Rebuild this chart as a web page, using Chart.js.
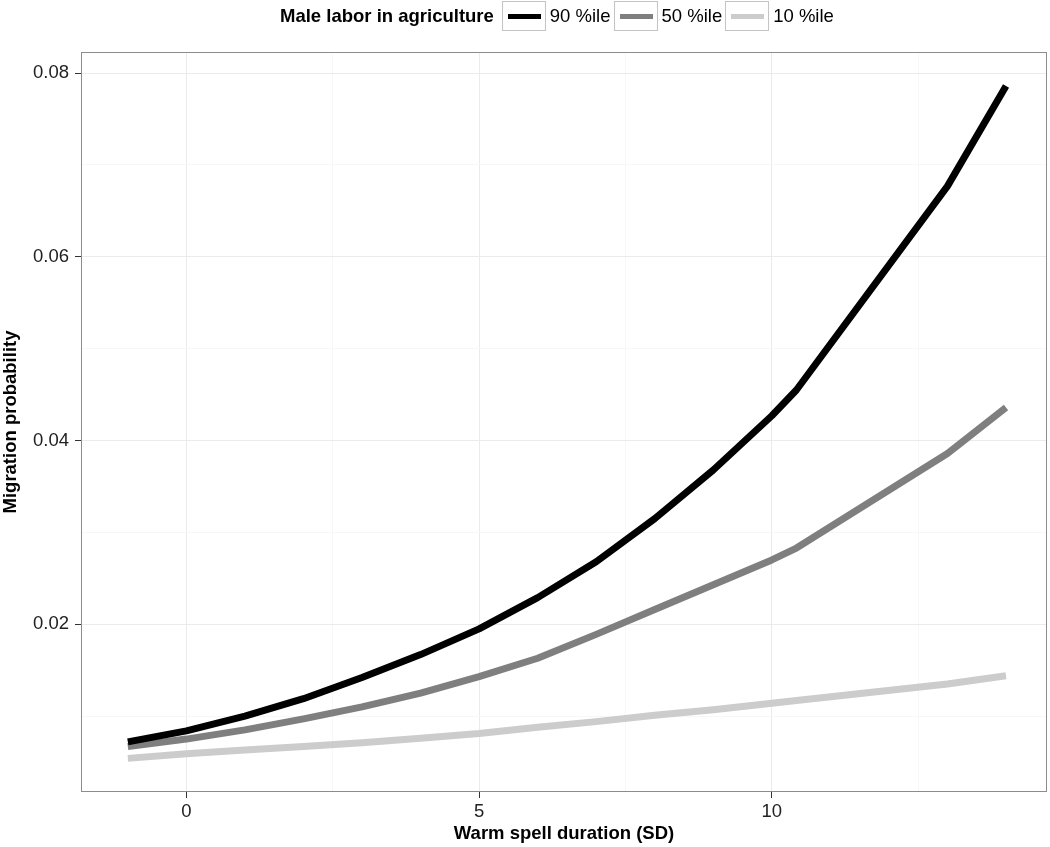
<!DOCTYPE html>
<html>
<head>
<meta charset="utf-8">
<script src="https://cdn.jsdelivr.net/npm/chart.js@4.4.1/dist/chart.umd.min.js"></script>
<style>
  html, body { margin: 0; padding: 0; background: #fff; }
  #wrap { position: relative; width: 1050px; height: 847px; font-family: "Liberation Sans", Arial, sans-serif; }
  #legend { position: absolute; top: 1px; left: 280px; height: 30px; display: flex; align-items: center; color: #000; font-size: 18.5px; }
  #legend .ltitle { font-weight: bold; margin-right: 8px; }
  #legend .key { position: relative; width: 42px; height: 28px; border: 1px solid #c4c4c4; background: #fff; }
  #legend .kline { position: absolute; left: 5px; right: 4px; top: 12px; height: 5px; }
  #legend .klabel { margin: 0 3px 0 4px; }
</style>
</head>
<body>
<div id="wrap">
  <canvas id="grafica" width="1050" height="847"></canvas>
  <div id="legend"></div>
</div>
<script>
// valores
const duracion = [-1, 0, 1, 2, 3, 4, 5, 6, 7, 8, 9, 10, 10.42, 13, 14];
const p90 = [0.0072, 0.0084, 0.0100, 0.0119, 0.0142, 0.0167, 0.0195, 0.0229, 0.0268, 0.0315, 0.0368, 0.0427, 0.0455, 0.0677, 0.0786];
const p50 = [0.0067, 0.0075, 0.0085, 0.0097, 0.0110, 0.0125, 0.0143, 0.0163, 0.0189, 0.0216, 0.0243, 0.0270, 0.0283, 0.0386, 0.0436];
const p10 = [0.0054, 0.0059, 0.0063, 0.0067, 0.0071, 0.0076, 0.0081, 0.0088, 0.0094, 0.0101, 0.0107, 0.0114, 0.0117, 0.0135, 0.0144];

const etiquetas = ['90 %ile', '50 %ile', '10 %ile'];
const colores = ['#000000', '#7f7f7f', '#cccccc'];
const tituloLeyenda = 'Male labor in agriculture';

const marcasX = [0, 2.5, 5, 7.5, 10, 12.5];
const marcasY = [0.01, 0.02, 0.03, 0.04, 0.05, 0.06, 0.07, 0.08];

const fuente = { family: '"Liberation Sans", Arial, sans-serif', size: 18.5 };

const bordePanel = {
    id: 'bordePanel',
    afterDraw(chart) {
        const { ctx, chartArea: a } = chart;
        ctx.save();
        ctx.strokeStyle = '#8c8c8c';
        ctx.lineWidth = 1;
        ctx.strokeRect(Math.round(a.left) + 0.5, Math.round(a.top) + 0.5, Math.round(a.width) - 1, Math.round(a.height) - 1);
        ctx.restore();
    }
};

const series = [p90, p50, p10];
const esMayorX = v => v % 5 === 0;
const esMayorY = v => Math.round(v * 100) % 2 === 0;

new Chart(document.getElementById('grafica'), {
    type: 'line',
    data: {
        datasets: series.map((s, i) => ({
            label: etiquetas[i],
            data: s.map((y, j) => ({ x: duracion[j], y: y })),
            borderColor: colores[i],
            borderWidth: 7,
            borderCapStyle: 'butt',
            borderJoinStyle: 'round',
            pointRadius: 0,
            tension: 0,
            fill: false
        }))
    },
    options: {
        responsive: false,
        animation: false,
        layout: { padding: { top: 52, right: 3, left: 0, bottom: 0 } },
        plugins: { legend: { display: false }, tooltip: { enabled: false } },
        scales: {
            x: {
                type: 'linear',
                min: -1.8,
                max: 14.7,
                afterBuildTicks: scale => { scale.ticks = marcasX.map(v => ({ value: v })); },
                afterFit: scale => { scale.height = 55; },
                border: { display: false },
                grid: {
                    color: c => esMayorX(c.tick.value) ? '#ebebeb' : '#f7f7f7',
                    tickColor: c => esMayorX(c.tick.value) ? '#333333' : 'rgba(0,0,0,0)',
                    tickLength: 6,
                    lineWidth: 1
                },
                ticks: {
                    autoSkip: false,
                    maxRotation: 0,
                    padding: 3,
                    color: '#222',
                    font: fuente,
                    callback: v => esMayorX(v) ? String(v) : ''
                },
                title: {
                    display: true,
                    text: 'Warm spell duration (SD)',
                    color: '#000',
                    font: { ...fuente, weight: 'bold' },
                    padding: { top: 0, bottom: 2 }
                }
            },
            y: {
                min: 0.00174,
                max: 0.0823,
                afterBuildTicks: scale => { scale.ticks = marcasY.map(v => ({ value: v })); },
                afterFit: scale => { scale.width = 81; },
                border: { display: false },
                grid: {
                    color: c => esMayorY(c.tick.value) ? '#ebebeb' : '#f7f7f7',
                    tickColor: c => esMayorY(c.tick.value) ? '#333333' : 'rgba(0,0,0,0)',
                    tickLength: 6,
                    lineWidth: 1
                },
                ticks: {
                    autoSkip: false,
                    padding: 6,
                    color: '#222',
                    font: fuente,
                    callback: v => esMayorY(v) ? v.toFixed(2) : ''
                },
                title: {
                    display: true,
                    text: 'Migration probability',
                    color: '#000',
                    font: { ...fuente, weight: 'bold' },
                    padding: 0
                }
            }
        }
    },
    plugins: [bordePanel]
});

// leyenda horizontal al estilo ggplot
document.getElementById('legend').innerHTML =
    `<span class="ltitle">${tituloLeyenda}</span>` +
    etiquetas.map((l, i) =>
        `<span class="key"><span class="kline" style="background:${colores[i]}"></span></span><span class="klabel">${l}</span>`
    ).join('');
</script>
</body>
</html>
